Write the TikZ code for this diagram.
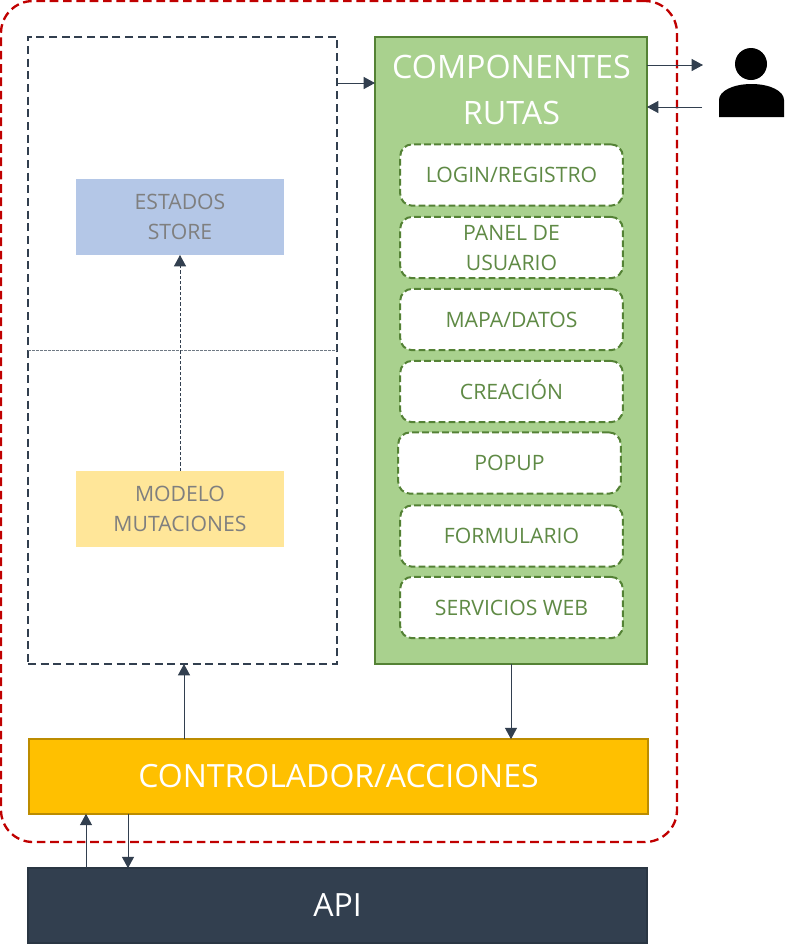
\documentclass[tikz,border=0pt]{standalone}
\usepackage{fontspec}
\setmainfont{Open Sans}
\usetikzlibrary{arrows.meta}
\definecolor{navy}{HTML}{323F4F}
\definecolor{redline}{HTML}{C00000}
\definecolor{greenfill}{HTML}{A9D18E}
\definecolor{greenline}{HTML}{548235}
\definecolor{greentext}{HTML}{5F8A45}
\definecolor{bluefill}{HTML}{B4C7E7}
\definecolor{yellowfill}{HTML}{FFE699}
\definecolor{goldfill}{HTML}{FFC000}
\definecolor{goldline}{HTML}{BC8C00}
\definecolor{graytext}{HTML}{7F7F7F}
\tikzset{
  x=0.75pt,y=-0.75pt,
  every node/.style={inner sep=0pt,outer sep=0pt,align=center},
  flowarrow/.style={draw=navy,line width=0.75pt,-{Triangle[length=8.5pt,width=9pt,fill=navy]}},
  thinarrow/.style={flowarrow,line width=0.7pt},
  subbox/.style={draw=greenline,line width=1.5pt,dash pattern=on 5pt off 2.5pt,fill=white,rounded corners=9pt,
     minimum width=167pt,minimum height=46pt,text=greentext,font=\fontsize{15.9}{22.5}\selectfont},
  statebox/.style={minimum width=156pt,minimum height=57pt,text=graytext,font=\fontsize{15.9}{22.5}\selectfont},
}
\begin{document}
\begin{tikzpicture}
\useasboundingbox (0,0) rectangle (800,951);
\fill[white] (0,0) rectangle (800,951);
% outer red boundary
\node[draw=redline,line width=1.75pt,dash pattern=on 6.5pt off 3.5pt,rounded corners=24pt,minimum width=507pt,minimum height=630.75pt] (outer) at (339,421.5) {};
% store panel
\node[draw=navy,line width=1.5pt,dash pattern=on 6pt off 3.5pt,minimum width=231.75pt,minimum height=470.25pt] (store) at (182.5,350.5) {};
\coordinate (divL) at (store.west);
\coordinate (divR) at (store.east);
\draw[navy!70,line width=0.4pt,dash pattern=on 2pt off 1pt] (divL) -- (divR);
% green panel
\node[draw=greenline,line width=1.4pt,fill=greenfill,minimum width=204pt,minimum height=470.25pt] (comp) at (511,350.5) {};
\node[text=white,font=\fontsize{24.2}{34.5}\selectfont] (title) at (511.5,90) {COMPONENTES\\RUTAS};
\node[subbox] (s1) at (511.5,175) {LOGIN/REGISTRO};
\node[subbox] (s2) at (511.5,247.5) {PANEL DE\\USUARIO};
\node[subbox] (s3) at (511.5,319.5) {MAPA\smash{/}DATOS};
\node[subbox] (s4) at (511.5,391.5) {CREACI\smash{Ó}N};
\node[subbox] (s5) at (509.5,463) {POPUP};
\node[subbox] (s6) at (511.5,536) {FORMULARIO};
\node[subbox] (s7) at (511.5,607.5) {SERVICIOS WEB};
% state boxes
\node[statebox,fill=bluefill] (estados) at (180,217) {ESTADOS\\STORE};
\node[statebox,fill=yellowfill] (modelo) at (180,509) {MODELO\\MUTACIONES};
% controller and API
\node[draw=goldline,line width=1.5pt,fill=goldfill,minimum width=464pt,minimum height=56pt,text=white,font=\fontsize{24}{30}\selectfont] (ctrl) at (338.5,776.5) {\raisebox{-1.2pt}{CONTROLADOR\smash{/}ACCIONES}};
\node[draw=navy!85!black,line width=1.4pt,fill=navy,minimum width=464pt,minimum height=56pt,text=white,font=\fontsize{24}{30}\selectfont] (api) at (337.5,905.5) {\raisebox{-0.6pt}{API}};
% person
\node[fill=black,circle,minimum size=24pt] (head) at (751,64) {};
\fill[black] (719,117) -- (719,100) .. controls (719,91) and (733,84) .. (751.5,84) .. controls (770,84) and (784,91) .. (784,100) -- (784,117) -- cycle;
\coordinate (userOutEnd) at (703,65);
\coordinate (userInStart) at (702,107);
% connectors
\draw[thinarrow,dash pattern=on 2.5pt off 1.5pt] (modelo.north -| estados.south) -- (estados.south);
\draw[thinarrow] (store.east |- 0,83) -- (comp.west |- 0,83);
\draw[thinarrow] (comp.east |- 0,65) -- (userOutEnd);
\draw[thinarrow] (userInStart) -- (comp.east |- userInStart);
\draw[flowarrow] (ctrl.north -| 184,0) -- (store.south -| 184,0);
\draw[flowarrow] (comp.south -| 511,0) -- (ctrl.north -| 511,0);
\draw[flowarrow] (api.north -| 86,0) -- (ctrl.south -| 86,0);
\draw[flowarrow] (ctrl.south -| 128,0) -- (api.north -| 128,0);
\end{tikzpicture}
\end{document}
